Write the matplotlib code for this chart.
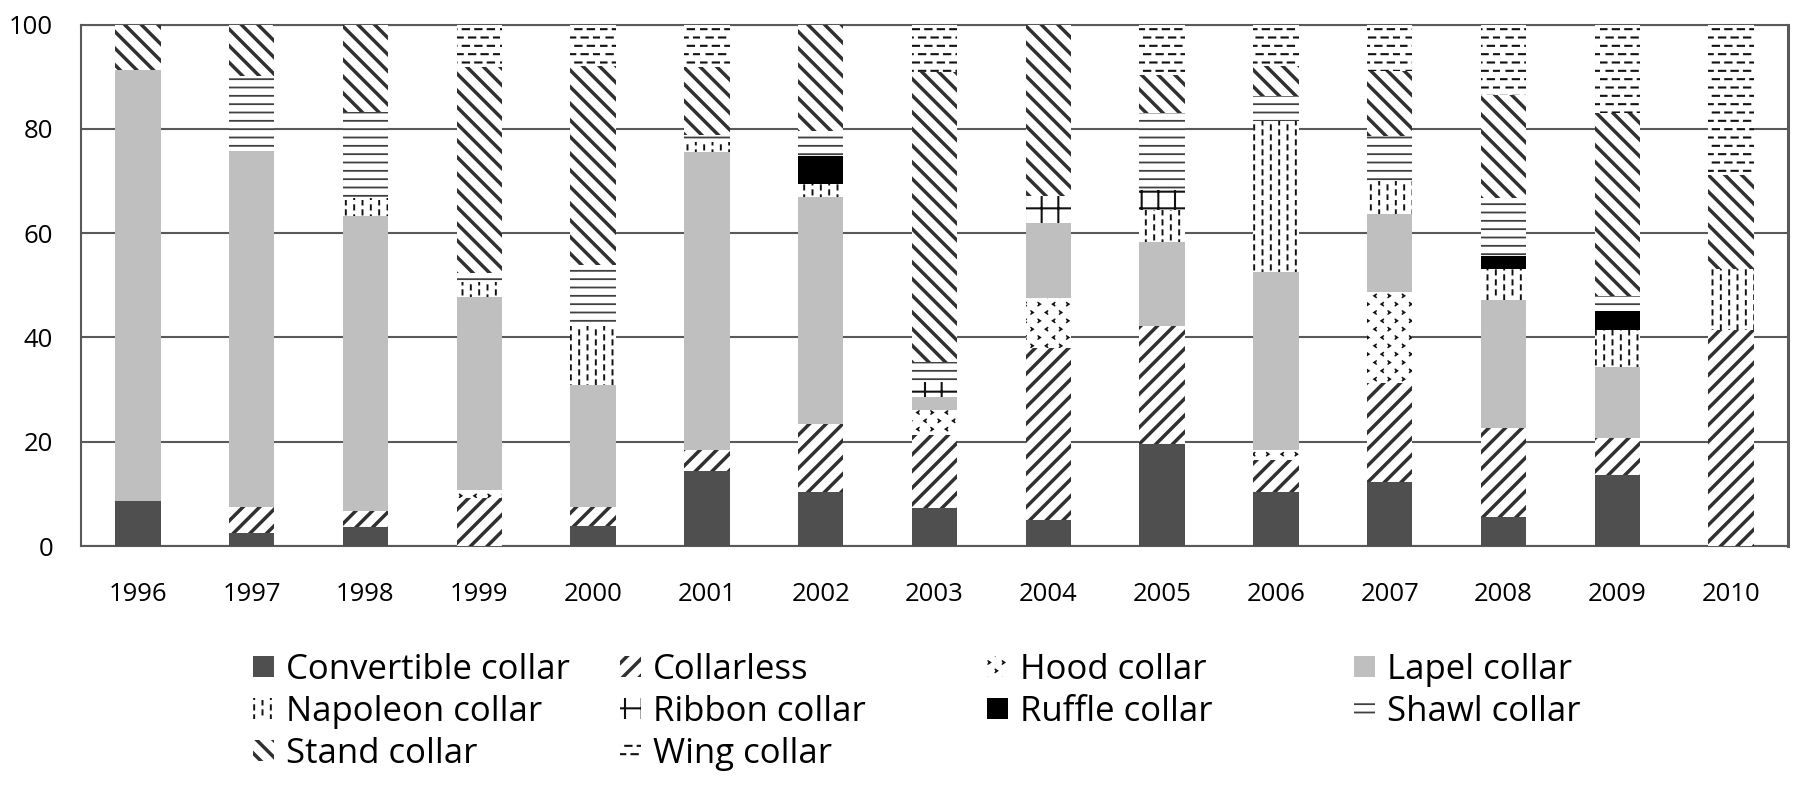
import warnings
import numpy as np
import matplotlib
matplotlib.use('Agg')
import matplotlib.pyplot as plt
from matplotlib import hatch as mhatch
from matplotlib.path import Path
from matplotlib.patches import Rectangle

# collar type share (%) per year, stacked bottom -> top
years = [1996, 1997, 1998, 1999, 2000, 2001, 2002, 2003, 2004, 2005, 2006, 2007, 2008, 2009, 2010]

convertible = [8.6, 2.4, 3.6, 0.0, 3.8, 14.4, 10.4, 7.2, 4.9, 19.5, 10.4, 12.2, 5.6, 13.7, 0.0]
collarless  = [0.0, 5.1, 3.1, 9.2, 3.7, 4.1, 12.9, 14.0, 33.1, 22.6, 6.0, 19.0, 17.0, 7.0, 41.4]
hood        = [0.0, 0.0, 0.0, 1.6, 0.0, 0.0, 0.0, 4.8, 9.6, 0.0, 2.1, 17.6, 0.0, 0.0, 0.0]
lapel       = [82.7, 68.2, 56.5, 37.0, 23.3, 57.0, 43.6, 2.6, 14.4, 16.1, 34.1, 14.9, 24.5, 13.7, 0.0]
napoleon    = [0.0, 0.0, 3.6, 2.9, 11.3, 2.0, 2.6, 0.0, 0.0, 6.2, 28.9, 6.2, 6.0, 7.0, 11.7]
ribbon      = [0.0, 0.0, 0.0, 0.0, 0.0, 0.0, 0.0, 2.8, 5.1, 3.8, 0.0, 0.0, 0.0, 0.0, 0.0]
ruffle      = [0.0, 0.0, 0.0, 0.0, 0.0, 0.0, 5.2, 0.0, 0.0, 0.0, 0.0, 0.0, 2.5, 3.6, 0.0]
shawl       = [0.0, 14.5, 16.4, 1.7, 11.7, 1.3, 4.8, 3.9, 0.0, 14.8, 4.7, 8.7, 11.2, 2.9, 0.0]
stand       = [8.7, 9.8, 16.8, 39.4, 38.3, 13.0, 20.5, 55.5, 32.9, 7.4, 5.9, 12.5, 19.6, 35.1, 18.0]
wing        = [0.0, 0.0, 0.0, 8.2, 7.9, 8.2, 0.0, 9.2, 0.0, 9.6, 7.9, 8.9, 13.6, 17.0, 28.9]

series_names = ['Convertible collar', 'Collarless', 'Hood collar', 'Lapel collar',
                'Napoleon collar', 'Ribbon collar', 'Ruffle collar', 'Shawl collar',
                'Stand collar', 'Wing collar']
series_values = [convertible, collarless, hood, lapel, napoleon, ribbon, ruffle,
                 shawl, stand, wing]


# extra Excel-like fill patterns that matplotlib does not have
class VerticalDashHatch(mhatch.HatchPatternBase):
    # ':' -> staggered short vertical dashes
    def __init__(self, hatch, density):
        self.cols, self.rows = 12, 10
        self.num_vertices = self.cols * self.rows * 2 if ':' in hatch else 0

    def set_vertices_and_codes(self, vertices, codes):
        k = 0
        for i in range(self.cols):
            for j in range(self.rows):
                x = (i + 0.5) / self.cols
                y = (j + 0.5 * (i % 2) + 0.05) / self.rows
                vertices[k] = (x, y)
                vertices[k + 1] = (x, y + 0.42 / self.rows)
                k += 2
        codes[0::2] = Path.MOVETO
        codes[1::2] = Path.LINETO


class HorizontalDashHatch(mhatch.HatchPatternBase):
    # '=' -> staggered short horizontal dashes
    def __init__(self, hatch, density):
        self.cols, self.rows = 8, 12
        self.num_vertices = self.cols * self.rows * 2 if '=' in hatch else 0

    def set_vertices_and_codes(self, vertices, codes):
        k = 0
        for j in range(self.rows):
            for i in range(self.cols):
                y = (j + 0.5) / self.rows
                x = (i + 0.5 * (j % 2) + 0.02) / self.cols
                vertices[k] = (x, y)
                vertices[k + 1] = (x + 0.5 / self.cols, y)
                k += 2
        codes[0::2] = Path.MOVETO
        codes[1::2] = Path.LINETO


class ChevronHatch(mhatch.HatchPatternBase):
    # '^' -> small scattered < > marks
    def __init__(self, hatch, density):
        self.cols, self.rows = 7, 12
        self.num_vertices = self.cols * self.rows * 3 if '^' in hatch else 0

    def set_vertices_and_codes(self, vertices, codes):
        k = 0
        w, h = 0.012, 0.016
        for j in range(self.rows):
            for i in range(self.cols):
                cx = (i + 0.5 * (j % 2) + 0.25) / self.cols
                cy = (j + 0.5) / self.rows
                d = 1 if i % 2 else -1
                vertices[k] = (cx + d * w, cy + h)
                vertices[k + 1] = (cx - d * w, cy)
                vertices[k + 2] = (cx + d * w, cy - h)
                codes[k] = Path.MOVETO
                codes[k + 1] = Path.LINETO
                codes[k + 2] = Path.LINETO
                k += 3


mhatch._hatch_types.extend([VerticalDashHatch, HorizontalDashHatch, ChevronHatch])
warnings.filterwarnings('ignore', message='hatch must consist')

# name -> (face colour, hatch, hatch colour, hatch linewidth)
styles = {
    'Convertible collar': ('#4f4f4f', None, '#4f4f4f', 1.0),
    'Collarless':         ('white', '//', '#303030', 2.5),
    'Hood collar':        ('white', '^', '#111111', 1.0),
    'Lapel collar':       ('#bfbfbf', None, '#bfbfbf', 1.0),
    'Napoleon collar':    ('white', ':', '#111111', 1.4),
    'Ribbon collar':      ('white', '+', '#111111', 1.5),
    'Ruffle collar':      ('black', None, 'black', 1.0),
    'Shawl collar':       ('white', '--', '#404040', 1.3),
    'Stand collar':       ('white', '\\\\', '#303030', 2.5),
    'Wing collar':        ('white', '=', '#111111', 1.5),
}

plt.rcParams['font.family'] = ['Open Sans', 'DejaVu Sans']
plt.rcParams['hatch.linewidth'] = 1.5

W, H = 1805, 792
fig = plt.figure(figsize=(W / 100, H / 100), dpi=100)
ax = fig.add_axes([81 / W, 1 - 546 / H, (1788 - 81) / W, (546 - 24.5) / H])


def apply_style(patch, name):
    fc, hatch, hc, hlw = styles[name]
    patch.set_facecolor(fc)
    patch.set_edgecolor(hc)
    patch.set_linewidth(0)
    if hatch:
        patch.set_hatch(hatch)
        if hasattr(patch, 'set_hatch_linewidth'):
            patch.set_hatch_linewidth(hlw)


x = np.arange(len(years))
bottom = np.zeros(len(years))
for name, vals in zip(series_names, series_values):
    with plt.rc_context({'hatch.linewidth': styles[name][3]}):
        bars = ax.bar(x, vals, 0.4, bottom=bottom)
        for b in bars:
            apply_style(b, name)
    bottom += np.array(vals)

ax.set_xlim(-0.5, len(years) - 0.5)
ax.set_ylim(0, 100)
ax.set_yticks(range(0, 101, 20))
ax.set_xticks(x, [str(y) for y in years])
ax.tick_params(length=0, labelsize=18.5, colors='black')
ax.tick_params(axis='y', pad=20)
ax.tick_params(axis='x', pad=26)
ax.grid(axis='y', color='#595959', linewidth=1.5)
ax.set_axisbelow(True)
for side, sp in ax.spines.items():
    sp.set_color('#595959')
    sp.set_linewidth(1.5)
    sp.set_zorder(0.6)
ax.spines['right'].set_linewidth(2.2)

# legend: 4 equal-width columns, row-major like Excel
col_x = [253, 620, 987, 1354]
row_y = [666, 708, 750]
box = 21
for i, name in enumerate(series_names):
    cx = col_x[i % 4]
    cy = row_y[i // 4]
    with plt.rc_context({'hatch.linewidth': styles[name][3]}):
        r = Rectangle((cx / W, 1 - (cy + box / 2) / H), box / W, box / H,
                      transform=fig.transFigure)
        apply_style(r, name)
        fig.add_artist(r)
    fig.text((cx + box + 12) / W, 1 - cy / H, name, fontsize=25,
             ha='left', va='center_baseline', color='black')

fig.savefig('out.png', dpi=100)
